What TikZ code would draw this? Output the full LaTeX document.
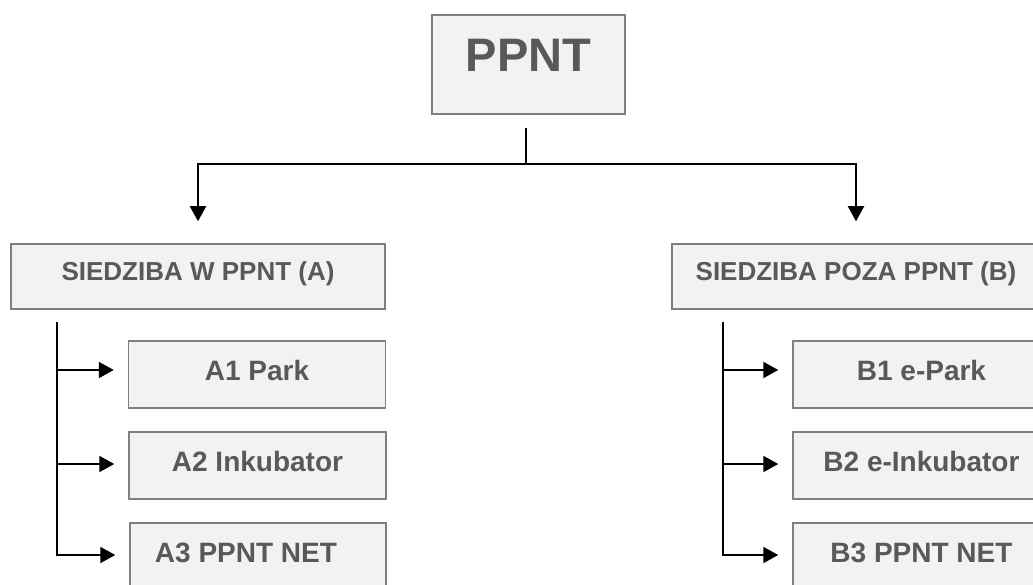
\documentclass[tikz,border=0pt]{standalone}
\usepackage{fontspec}
\setmainfont{Liberation Sans}
\usetikzlibrary{arrows.meta}
\definecolor{boxfill}{HTML}{F2F2F2}
\definecolor{boxline}{HTML}{7F7F7F}
\definecolor{boxtext}{HTML}{595959}
\begin{document}
\begin{tikzpicture}[x=1pt,y=-1pt,
  box/.style={draw=boxline, fill=boxfill, line width=1.5pt, text=boxtext,
    font=\bfseries\fontsize{28}{30}\selectfont, inner sep=0pt, align=center,
    text height=12pt, text depth=0pt},
  topbox/.style={box, font=\bfseries\fontsize{47}{50}\selectfont,
    text height=13.6pt, text depth=0pt},
  midbox/.style={box, font=\bfseries\fontsize{26}{28}\selectfont,
    text height=8.6pt, text depth=0pt},
  conn/.style={draw=black, line width=2pt},
  arr/.style={conn, -{Triangle[length=15pt,width=16pt]}}]
\useasboundingbox (0,0) rectangle (1033,585);
\clip (0,0) rectangle (1033,585);
\node[topbox, minimum width=193pt, minimum height=99pt] (ppnt) at (528.5,64.5) {PPNT};
\node[midbox, minimum width=374pt, minimum height=65pt] (A) at (198,276.5) {SIEDZIBA W PPNT (A)};
\node[midbox, minimum width=368pt, minimum height=65pt] (B) at (856,276.5) {SIEDZIBA POZA PPNT (B)};
\node[box, minimum width=257pt, minimum height=67pt] (A1) at (257,374.5) {A1 Park};
\node[box, minimum width=257pt, minimum height=67pt] (A2) at (257.5,465.5) {A2 Inkubator};
\node[box, minimum width=256pt, minimum height=67pt] (A3) at (258,556.5) {A3 PPNT NET\hspace{24pt}};
\node[box, minimum width=257pt, minimum height=67pt] (B1) at (921.5,374.5) {B1 e-Park};
\node[box, minimum width=257pt, minimum height=67pt] (B2) at (921.5,465.5) {B2 e-Inkubator};
\node[box, minimum width=257pt, minimum height=67pt] (B3) at (921.5,556.5) {B3 PPNT NET};
\coordinate (hub) at (526,164);
\coordinate (atop) at (57,322);
\coordinate (btop) at (723,322);
\draw[conn] ([xshift=-2.5pt,yshift=-13pt]ppnt.south) -- (hub);
\draw[arr] (hub) -| ([yshift=22pt]A.north);
\draw[arr] (hub) -| ([yshift=22pt]B.north);
\draw[arr] (atop) |- ([xshift=-14pt,yshift=1.5pt]A3.west);
\draw[arr] (atop |- 0,370) -- ([xshift=-14pt,yshift=4.5pt]A1.west);
\draw[arr] (atop |- 0,464) -- ([xshift=-14pt,yshift=1.5pt]A2.west);
\draw[arr] (btop) |- ([xshift=-14pt,yshift=1.5pt]B3.west);
\draw[arr] (btop |- 0,370) -- ([xshift=-14pt,yshift=4.5pt]B1.west);
\draw[arr] (btop |- 0,464) -- ([xshift=-14pt,yshift=1.5pt]B2.west);
\end{tikzpicture}
\end{document}
